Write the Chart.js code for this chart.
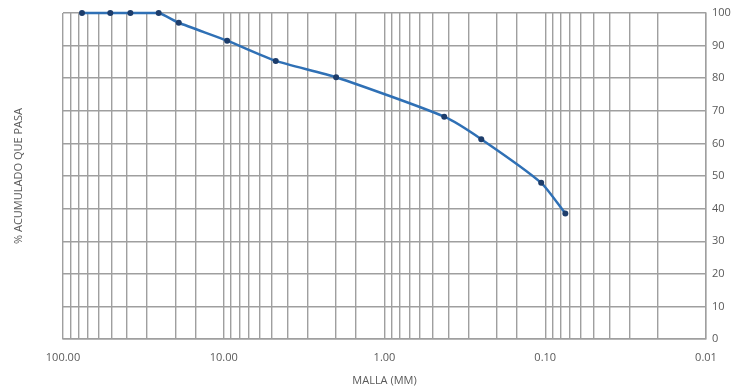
<!DOCTYPE html>
<html>
<head>
<meta charset="utf-8">
<script src="https://cdn.jsdelivr.net/npm/chart.js@4/dist/chart.umd.min.js"></script>
<style>
  html, body { margin: 0; padding: 0; background: #fff; }
  #wrap { width: 740px; height: 390px; }
</style>
</head>
<body>
<div id="wrap"><canvas id="granulometria"></canvas></div>
<script>
// tamiz (mm) y % acumulado que pasa
const mallas = [76.2, 50.8, 38.1, 25.4, 19.05, 9.525, 4.75, 2.0, 0.425, 0.25, 0.106, 0.075];
const pasa = [100, 100, 100, 100, 97, 91.5, 85.3, 80.3, 68.2, 61.3, 47.9, 38.5];
const yTicks = [0, 10, 20, 30, 40, 50, 60, 70, 80, 90, 100];

const gris = '#9f9f9f';
const textoGris = '#595959';
const fuente = { family: "'Open Sans', 'Liberation Sans', sans-serif", size: 11 };

const puntos = mallas.map((m, i) => ({ x: m, y: pasa[i] }));

new Chart(document.getElementById('granulometria'), {
    type: 'line',
    data: {
        datasets: [{
            data: puntos,
            borderColor: '#2f70b5',
            borderWidth: 2.5,
            tension: 0.2,
            pointRadius: 3,
            pointBackgroundColor: '#1d3d6b',
            pointBorderColor: '#1d3d6b',
            pointBorderWidth: 0,
            clip: false
        }]
    },
    options: {
        responsive: true,
        maintainAspectRatio: false,
        animation: false,
        layout: { padding: { top: 13, right: 0, bottom: 0, left: 8 } },
        plugins: {
            legend: { display: false },
            tooltip: { enabled: false }
        },
        scales: {
            x: {
                type: 'logarithmic',
                reverse: true,
                min: 0.01,
                max: 100,
                grid: { color: gris, lineWidth: 1.4, drawTicks: false },
                border: { color: gris, width: 1.4 },
                ticks: {
                    autoSkip: false,
                    maxRotation: 0,
                    padding: 12,
                    color: textoGris,
                    font: fuente,
                    callback: (value) => {
                        const l = Math.log10(value);
                        return Math.abs(l - Math.round(l)) < 1e-6 ? Number(value).toFixed(2) : '';
                    }
                },
                title: {
                    display: true,
                    text: 'MALLA (MM)',
                    color: textoGris,
                    font: fuente,
                    padding: { top: 4, bottom: 3 }
                },
                afterFit: (s) => { s.height = 51; }
            },
            y: {
                position: 'right',
                min: 0,
                max: 100,
                afterBuildTicks: (s) => { s.ticks = yTicks.map(v => ({ value: v })); },
                grid: { color: gris, lineWidth: 1.4, drawTicks: false },
                border: { color: gris, width: 1.4 },
                ticks: { padding: 6, color: textoGris, font: fuente },
                afterFit: (s) => { s.width = 34; }
            },
            yTitulo: {
                position: 'left',
                min: 0,
                max: 100,
                grid: { display: false, drawTicks: false },
                border: { display: false },
                ticks: { display: false },
                title: {
                    display: true,
                    text: '% ACUMULADO QUE PASA',
                    color: textoGris,
                    font: fuente,
                    padding: { top: 4, bottom: 4 }
                },
                afterFit: (s) => { s.width = 55; }
            }
        }
    }
});
</script>
</body>
</html>
